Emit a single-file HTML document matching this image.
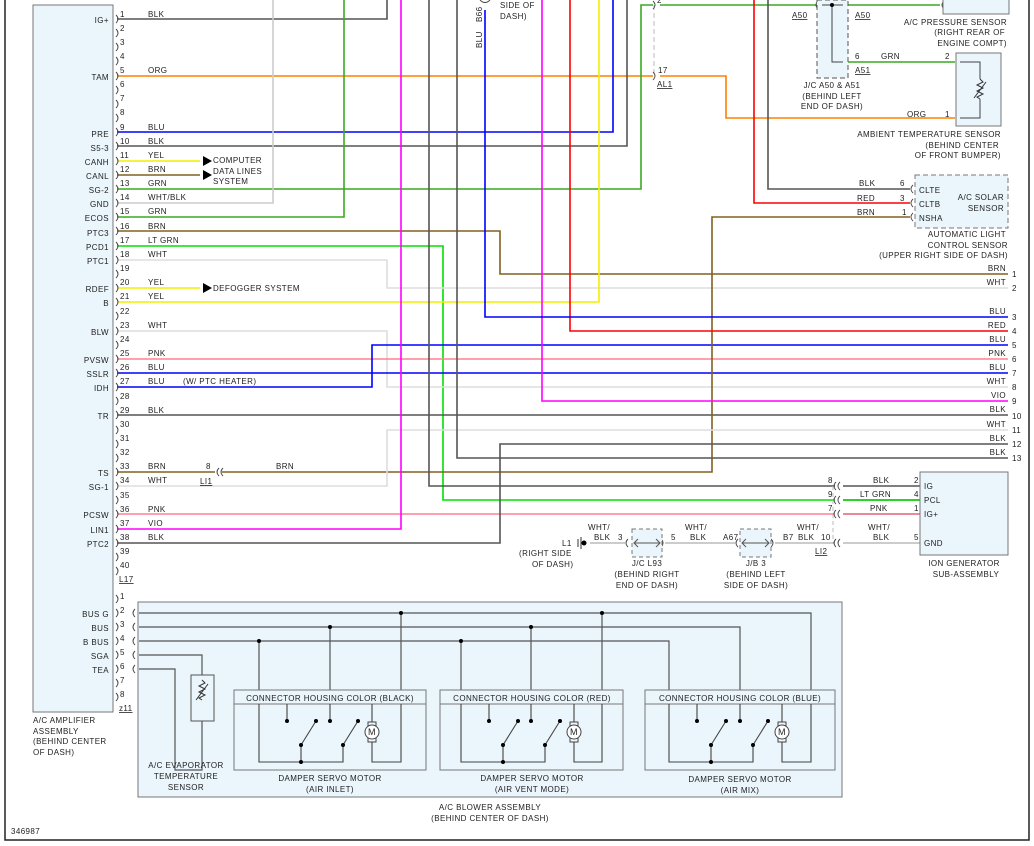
<!DOCTYPE html>
<html><head><meta charset="utf-8"><style>
html,body{margin:0;padding:0;background:#fff}
svg{display:block}
text{font-family:"Liberation Sans",Arial,sans-serif;font-size:8px;fill:#222;letter-spacing:0.4px}
.r{text-anchor:end}.m{text-anchor:middle}
.w{fill:none;stroke-width:1.6}
.g{fill:none;stroke:#666;stroke-width:1.2}
</style></head><body>
<svg width="1034" height="846" viewBox="0 0 1034 846" xmlns="http://www.w3.org/2000/svg">
<rect x="0" y="0" width="1034" height="846" fill="#fff"/>
<!-- border -->
<path d="M5 0V840H1029V0" fill="none" stroke="#222" stroke-width="1.5"/>
<!-- amplifier box -->
<rect x="33" y="5" width="80" height="707" fill="#eaf5fc" stroke="#777" stroke-width="1"/>
<!-- blower box -->
<rect x="138" y="602" width="704" height="195" fill="#eaf5fc" stroke="#777" stroke-width="1"/>

<!-- ===== wires ===== -->
<g class="w">
<path d="M117 19H387V0" stroke="#555"/>
<path d="M117 76H653" stroke="#ff8000"/>
<path d="M660 76H726V118H955" stroke="#ff8000"/>
<path d="M117 132H613V0" stroke="#0000ff"/>
<path d="M117 146H627V0" stroke="#555"/>
<path d="M117 161H200" stroke="#f0f000"/>
<path d="M117 175H200" stroke="#806020"/>
<path d="M117 189H641V5H653" stroke="#3aaa20"/>
<path d="M660 5H820" stroke="#3aaa20"/>
<path d="M117 203H273V0" stroke="#ccc"/>
<path d="M117 217H344V0" stroke="#3aaa20"/>
<path d="M117 231H500V274H1008" stroke="#806020"/>
<path d="M117 246H443V500H835" stroke="#00e000"/>
<path d="M117 260H387V288H1008" stroke="#ddd"/>
<path d="M117 288H200" stroke="#f0f000"/>
<path d="M117 302H599V0" stroke="#f0f000"/>
<path d="M117 331H387V387H1008" stroke="#ddd"/>
<path d="M117 359H1008" stroke="#ff8090"/>
<path d="M117 373H1008" stroke="#0000ff"/>
<path d="M117 387H372V345H1008" stroke="#0000ff"/>
<path d="M117 415H1008" stroke="#555"/>
<path d="M117 472H215" stroke="#806020"/>
<path d="M222 472H712V217H910" stroke="#806020"/>
<path d="M117 486H387V430H1008" stroke="#ddd"/>
<path d="M117 514H835" stroke="#ff8090"/>
<path d="M117 529H401V0" stroke="#ff00ff"/>
<path d="M117 543H500V444H1008" stroke="#555"/>
<path d="M457 0V458H1008" stroke="#555"/>
<path d="M429 0V486H835" stroke="#555"/>
<path d="M542 0V401H1008" stroke="#ff00ff"/>
<path d="M570 0V331H1008" stroke="#ff0000"/>
<path d="M485 10V317H1008" stroke="#0000ff"/>
<path d="M754 0V203H910" stroke="#ff0000"/>
<path d="M768 0V189H910" stroke="#555"/>
<path d="M848 5H940" stroke="#3aaa20"/>
<path d="M848 62H955" stroke="#3aaa20"/>
<path d="M843 486H920M843 500H920M843 514H920" stroke="#555"/>
<path d="M843 500H920" stroke="#00e000"/>
<path d="M843 514H920" stroke="#ff8090"/>
<path d="M590 543H625M665 543H735M775 543H835M843 543H920" stroke="#bbb"/>
</g>
<!-- dashed connector verticals -->
<path d="M654 5V76" stroke="#bbb" stroke-dasharray="5,3" fill="none"/>
<path d="M833 486V543" stroke="#bbb" stroke-dasharray="4,3" fill="none"/>

<!-- arrows -->
<path d="M203 156L212 161L203 166Z M203 170L212 175L203 180Z M203 283L212 288L203 293Z" fill="#000"/>

<!-- connector glyphs amplifier -->
<g fill="none" stroke="#444" stroke-width="0.9">
<path d="M116 15q4 4 0 8M116 29q4 4 0 8M116 43q4 4 0 8M116 57q4 4 0 8M116 72q4 4 0 8M116 86q4 4 0 8M116 100q4 4 0 8M116 114q4 4 0 8M116 128q4 4 0 8M116 142q4 4 0 8M116 157q4 4 0 8M116 171q4 4 0 8M116 185q4 4 0 8M116 199q4 4 0 8M116 213q4 4 0 8M116 227q4 4 0 8M116 242q4 4 0 8M116 256q4 4 0 8M116 270q4 4 0 8M116 284q4 4 0 8M116 298q4 4 0 8M116 312q4 4 0 8M116 327q4 4 0 8M116 341q4 4 0 8M116 355q4 4 0 8M116 369q4 4 0 8M116 383q4 4 0 8M116 397q4 4 0 8M116 411q4 4 0 8M116 426q4 4 0 8M116 440q4 4 0 8M116 454q4 4 0 8M116 468q4 4 0 8M116 482q4 4 0 8M116 496q4 4 0 8M116 510q4 4 0 8M116 525q4 4 0 8M116 539q4 4 0 8M116 553q4 4 0 8M116 567q4 4 0 8"/>
<path d="M116 595q4 4 0 8M116 609q4 4 0 8M116 623q4 4 0 8M116 637q4 4 0 8M116 651q4 4 0 8M116 665q4 4 0 8M116 679q4 4 0 8M116 693q4 4 0 8"/>
<path d="M135 609q-4 4 0 8M135 623q-4 4 0 8M135 637q-4 4 0 8M135 651q-4 4 0 8M135 665q-4 4 0 8"/>
<path d="M219 468q-4 4 0 8M223 468q-4 4 0 8"/>
<path d="M653 1q4 4 0 8M653 72q4 4 0 8"/>
<path d="M843 1q4 4 0 8M843 58q4 4 0 8M818 1q-4 4 0 8M944 1q-4 4 0 8M959 58q-4 4 0 8M959 114q-4 4 0 8"/>
<path d="M913 185q-4 4 0 8M913 199q-4 4 0 8M913 213q-4 4 0 8"/>
<path d="M836 482q-4 4 0 8M840 482q-4 4 0 8M836 496q-4 4 0 8M840 496q-4 4 0 8M836 510q-4 4 0 8M840 510q-4 4 0 8M836 539q-4 4 0 8M840 539q-4 4 0 8"/>
<path d="M923 482q-4 4 0 8M923 496q-4 4 0 8M923 510q-4 4 0 8M923 539q-4 4 0 8"/>
<path d="M628 539q-4 4 0 8M661 539q4 4 0 8M738 539q-4 4 0 8M771 539q4 4 0 8"/>
<path d="M480 0q5 5 10 0"/>
</g>

<!-- amplifier labels -->
<g class="r">
<text x="109" y="23" class="r">IG+</text><text x="109" y="80" class="r">TAM</text><text x="109" y="137" class="r">PRE</text><text x="109" y="151" class="r">S5-3</text><text x="109" y="165" class="r">CANH</text><text x="109" y="179" class="r">CANL</text><text x="109" y="193" class="r">SG-2</text><text x="109" y="207" class="r">GND</text><text x="109" y="221" class="r">ECOS</text><text x="109" y="236" class="r">PTC3</text><text x="109" y="250" class="r">PCD1</text><text x="109" y="264" class="r">PTC1</text><text x="109" y="292" class="r">RDEF</text><text x="109" y="306" class="r">B</text><text x="109" y="335" class="r">BLW</text><text x="109" y="363" class="r">PVSW</text><text x="109" y="377" class="r">SSLR</text><text x="109" y="391" class="r">IDH</text><text x="109" y="419" class="r">TR</text><text x="109" y="476" class="r">TS</text><text x="109" y="490" class="r">SG-1</text><text x="109" y="518" class="r">PCSW</text><text x="109" y="533" class="r">LIN1</text><text x="109" y="547" class="r">PTC2</text>
<text x="109" y="617" class="r">BUS G</text><text x="109" y="631" class="r">BUS</text><text x="109" y="645" class="r">B BUS</text><text x="109" y="659" class="r">SGA</text><text x="109" y="673" class="r">TEA</text>
</g>
<g>
<text x="120" y="17">1</text><text x="120" y="31">2</text><text x="120" y="45">3</text><text x="120" y="59">4</text><text x="120" y="73">5</text><text x="120" y="87">6</text><text x="120" y="101">7</text><text x="120" y="115">8</text><text x="120" y="130">9</text><text x="120" y="144">10</text><text x="120" y="158">11</text><text x="120" y="172">12</text><text x="120" y="186">13</text><text x="120" y="200">14</text><text x="120" y="214">15</text><text x="120" y="229">16</text><text x="120" y="243">17</text><text x="120" y="257">18</text><text x="120" y="271">19</text><text x="120" y="285">20</text><text x="120" y="299">21</text><text x="120" y="314">22</text><text x="120" y="328">23</text><text x="120" y="342">24</text><text x="120" y="356">25</text><text x="120" y="370">26</text><text x="120" y="384">27</text><text x="120" y="399">28</text><text x="120" y="413">29</text><text x="120" y="427">30</text><text x="120" y="441">31</text><text x="120" y="455">32</text><text x="120" y="469">33</text><text x="120" y="483">34</text><text x="120" y="498">35</text><text x="120" y="512">36</text><text x="120" y="526">37</text><text x="120" y="540">38</text><text x="120" y="554">39</text><text x="120" y="568">40</text>
<text x="119" y="582" text-decoration="underline">L17</text>
<text x="120" y="599">1</text><text x="120" y="613">2</text><text x="120" y="627">3</text><text x="120" y="641">4</text><text x="120" y="655">5</text><text x="120" y="669">6</text><text x="120" y="683">7</text><text x="120" y="697">8</text>
<text x="119" y="711" text-decoration="underline">z11</text>
<!-- wire color labels -->
<text x="148" y="17">BLK</text><text x="148" y="73">ORG</text><text x="148" y="130">BLU</text><text x="148" y="144">BLK</text><text x="148" y="158">YEL</text><text x="148" y="172">BRN</text><text x="148" y="186">GRN</text><text x="148" y="200">WHT/BLK</text><text x="148" y="214">GRN</text><text x="148" y="229">BRN</text><text x="148" y="243">LT GRN</text><text x="148" y="257">WHT</text><text x="148" y="285">YEL</text><text x="148" y="299">YEL</text><text x="148" y="328">WHT</text><text x="148" y="356">PNK</text><text x="148" y="370">BLU</text><text x="148" y="384">BLU</text><text x="183" y="384">(W/ PTC HEATER)</text><text x="148" y="413">BLK</text><text x="148" y="469">BRN</text><text x="148" y="483">WHT</text><text x="148" y="512">PNK</text><text x="148" y="526">VIO</text><text x="148" y="540">BLK</text>
<text x="213" y="163">COMPUTER</text><text x="213" y="174">DATA LINES</text><text x="213" y="184">SYSTEM</text>
<text x="213" y="291">DEFOGGER SYSTEM</text>
<text x="206" y="469">8</text><text x="200" y="484" text-decoration="underline">LI1</text><text x="276" y="469">BRN</text>
<text x="33" y="723">A/C AMPLIFIER</text><text x="33" y="734">ASSEMBLY</text><text x="33" y="744">(BEHIND CENTER</text><text x="33" y="755">OF DASH)</text>
<text x="11" y="834">346987</text>
</g>

<!-- top middle labels -->
<text x="500" y="8">SIDE OF</text><text x="500" y="19">DASH)</text>
<text transform="translate(482,48) rotate(-90)">BLU</text><text transform="translate(482,22) rotate(-90)">B66</text>
<text x="657" y="3">2</text><text x="658" y="73">17</text><text x="657" y="87" text-decoration="underline">AL1</text>

<!-- J/C A50 & A51 -->
<rect x="817" y="0" width="31" height="78" fill="#eaf5fc" stroke="#555" stroke-dasharray="5,3"/>
<path d="M822 5H843M832 5V62H843" stroke="#444" fill="none"/>
<circle cx="832" cy="5" r="2" fill="#000"/>
<text x="792" y="18" text-decoration="underline">A50</text><text x="855" y="18" text-decoration="underline">A50</text>
<text x="855" y="59">6</text><text x="855" y="73" text-decoration="underline">A51</text>
<text x="881" y="59">GRN</text><text x="945" y="59">2</text>
<text x="832" y="88" class="m">J/C A50 &amp; A51</text><text x="832" y="99" class="m">(BEHIND LEFT</text><text x="832" y="109" class="m">END OF DASH)</text>
<!-- pressure sensor -->
<rect x="943" y="-2" width="66" height="16" fill="#eaf5fc" stroke="#777"/>
<text x="1007" y="25" class="r">A/C PRESSURE SENSOR</text><text x="1005" y="35" class="r">(RIGHT REAR OF</text><text x="1007" y="46" class="r">ENGINE COMPT)</text>
<!-- ambient sensor -->
<rect x="956" y="53" width="45" height="73" fill="#eaf5fc" stroke="#777"/>
<path d="M960 62H980V79M980 99V118H960" fill="none" stroke="#444"/>
<path d="M980 79l3 3l-6 3l6 3l-6 3l6 3l-6 3l3 2M974 98l12-16" fill="none" stroke="#333"/>
<text x="907" y="117">ORG</text><text x="945" y="117">1</text>
<text x="1001" y="137" class="r">AMBIENT TEMPERATURE SENSOR</text><text x="999" y="148" class="r">(BEHIND CENTER</text><text x="1001" y="158" class="r">OF FRONT BUMPER)</text>
<!-- ALS -->
<rect x="915" y="175" width="93" height="53" fill="#eaf5fc" stroke="#777" stroke-dasharray="5,3"/>
<text x="919" y="193">CLTE</text><text x="919" y="207">CLTB</text><text x="919" y="221">NSHA</text>
<text x="1004" y="200" class="r">A/C SOLAR</text><text x="1004" y="211" class="r">SENSOR</text>
<text x="859" y="186">BLK</text><text x="857" y="201">RED</text><text x="857" y="215">BRN</text>
<text x="900" y="186">6</text><text x="900" y="201">3</text><text x="902" y="215">1</text>
<text x="1006" y="237" class="r">AUTOMATIC LIGHT</text><text x="1008" y="248" class="r">CONTROL SENSOR</text><text x="1008" y="258" class="r">(UPPER RIGHT SIDE OF DASH)</text>
<!-- right end labels -->
<g>
<text x="1006" y="271" class="r">BRN</text><text x="1006" y="285" class="r">WHT</text><text x="1006" y="314" class="r">BLU</text><text x="1006" y="328" class="r">RED</text><text x="1006" y="342" class="r">BLU</text><text x="1006" y="356" class="r">PNK</text><text x="1006" y="370" class="r">BLU</text><text x="1006" y="384" class="r">WHT</text><text x="1006" y="398" class="r">VIO</text><text x="1006" y="412" class="r">BLK</text><text x="1006" y="427" class="r">WHT</text><text x="1006" y="441" class="r">BLK</text><text x="1006" y="455" class="r">BLK</text>
<text x="1012" y="277">1</text><text x="1012" y="291">2</text><text x="1012" y="320">3</text><text x="1012" y="334">4</text><text x="1012" y="348">5</text><text x="1012" y="362">6</text><text x="1012" y="376">7</text><text x="1012" y="390">8</text><text x="1012" y="404">9</text><text x="1012" y="419">10</text><text x="1012" y="433">11</text><text x="1012" y="447">12</text><text x="1012" y="461">13</text>
</g>
<!-- ion generator -->
<rect x="920" y="472" width="88" height="83" fill="#eaf5fc" stroke="#777"/>
<text x="924" y="489">IG</text><text x="924" y="503">PCL</text><text x="924" y="517">IG+</text><text x="924" y="546">GND</text>
<text x="964" y="566" class="m">ION GENERATOR</text><text x="966" y="577" class="m">SUB-ASSEMBLY</text>
<text x="828" y="483">8</text><text x="828" y="497">9</text><text x="828" y="511">7</text>
<text x="873" y="483">BLK</text><text x="860" y="497">LT GRN</text><text x="870" y="511">PNK</text>
<text x="914" y="483">2</text><text x="914" y="497">4</text><text x="914" y="511">1</text><text x="914" y="540">5</text>
<text x="868" y="530">WHT/</text><text x="873" y="540">BLK</text>
<text x="797" y="530">WHT/</text><text x="798" y="540">BLK</text><text x="821" y="540">10</text><text x="815" y="554" text-decoration="underline">LI2</text>
<!-- ground & junctions -->
<path d="M578 539V547M581 537V549" stroke="#333" fill="none"/><circle cx="584" cy="543" r="2.5" fill="#000"/>
<text x="562" y="546">L1</text><text x="519" y="556">(RIGHT SIDE</text><text x="532" y="567">OF DASH)</text>
<text x="588" y="530">WHT/</text><text x="594" y="540">BLK</text><text x="618" y="540">3</text>
<rect x="632" y="529" width="30" height="28" fill="#eaf5fc" stroke="#777" stroke-dasharray="4,3"/>
<path d="M634 543H660M638 539l-4 4l4 4M656 539l4 4l-4 4" fill="none" stroke="#555"/>
<text x="671" y="540">5</text><text x="685" y="530">WHT/</text><text x="690" y="540">BLK</text><text x="723" y="540">A67</text>
<rect x="740" y="529" width="31" height="28" fill="#eaf5fc" stroke="#777" stroke-dasharray="4,3"/>
<path d="M742 543H769M746 539l-4 4l4 4M765 539l4 4l-4 4" fill="none" stroke="#555"/>
<text x="783" y="540">B7</text>
<text x="647" y="566" class="m">J/C L93</text><text x="647" y="577" class="m">(BEHIND RIGHT</text><text x="647" y="588" class="m">END OF DASH)</text>
<text x="756" y="566" class="m">J/B 3</text><text x="756" y="577" class="m">(BEHIND LEFT</text><text x="756" y="588" class="m">SIDE OF DASH)</text>

<!-- blower internals -->
<g fill="none" stroke="#555" stroke-width="1.2">
<path d="M139 613H811V690M139 627H740V690M139 641H669V690"/>
<path d="M401 613V690M330 627V690M259 641V690M602 613V690M531 627V690M461 641V690"/>
<path d="M139 655H202V770H175V669H139"/>
</g>
<rect x="191" y="675" width="23" height="46" fill="#eaf5fc" stroke="#555"/>
<path d="M202 680l3 3l-6 3l6 3l-6 3l6 3l-6 3l3 2M196 700l12-16" fill="none" stroke="#333"/>
<g fill="#000"><circle cx="401" cy="613" r="2"/><circle cx="330" cy="627" r="2"/><circle cx="259" cy="641" r="2"/><circle cx="602" cy="613" r="2"/><circle cx="531" cy="627" r="2"/><circle cx="461" cy="641" r="2"/></g>
<text x="186" y="768" class="m">A/C EVAPORATOR</text><text x="186" y="779" class="m">TEMPERATURE</text><text x="186" y="790" class="m">SENSOR</text>

<g transform="translate(234,0)">
<rect x="0" y="690" width="192" height="80" fill="#eaf5fc" stroke="#777"/><path d="M0 704H192" stroke="#777"/>
<g fill="none" stroke="#444" stroke-width="1.1"><path d="M25 704V762H109V745M67 745V762M53 704V721M96 704V721M67 745L82 721M109 745L124 721M138 704V724M138 740V762H167V704"/></g>
<g fill="#000"><circle cx="53" cy="721" r="2"/><circle cx="96" cy="721" r="2"/><circle cx="82" cy="721" r="2"/><circle cx="124" cy="721" r="2"/><circle cx="67" cy="745" r="2"/><circle cx="109" cy="745" r="2"/><circle cx="67" cy="762" r="2"/></g>
<rect x="134" y="722" width="8" height="20" fill="#eaf5fc" stroke="#444"/><circle cx="138" cy="732" r="7" fill="#fff" stroke="#444"/>
<text x="138" y="735" class="m" style="font-size:9px">M</text>
<text x="96" y="701" class="m">CONNECTOR HOUSING COLOR (BLACK)</text>
<text x="96" y="781" class="m">DAMPER SERVO MOTOR</text><text x="96" y="792" class="m">(AIR INLET)</text>
</g>
<g transform="translate(440,0)">
<rect x="0" y="690" width="183" height="80" fill="#eaf5fc" stroke="#777"/><path d="M0 704H183" stroke="#777"/>
<g fill="none" stroke="#444" stroke-width="1.1"><path d="M21 704V762H105V745M63 745V762M49 704V721M91 704V721M63 745L78 721M105 745L120 721M134 704V724M134 740V762H162V704"/></g>
<g fill="#000"><circle cx="49" cy="721" r="2"/><circle cx="91" cy="721" r="2"/><circle cx="78" cy="721" r="2"/><circle cx="120" cy="721" r="2"/><circle cx="63" cy="745" r="2"/><circle cx="105" cy="745" r="2"/><circle cx="63" cy="762" r="2"/></g>
<rect x="130" y="722" width="8" height="20" fill="#eaf5fc" stroke="#444"/><circle cx="134" cy="732" r="7" fill="#fff" stroke="#444"/>
<text x="134" y="735" class="m" style="font-size:9px">M</text>
<text x="92" y="701" class="m">CONNECTOR HOUSING COLOR (RED)</text>
<text x="92" y="781" class="m">DAMPER SERVO MOTOR</text><text x="92" y="792" class="m">(AIR VENT MODE)</text>
</g>
<g transform="translate(645,0)">
<rect x="0" y="690" width="190" height="80" fill="#eaf5fc" stroke="#777"/><path d="M0 704H190" stroke="#777"/>
<g fill="none" stroke="#444" stroke-width="1.1"><path d="M24 704V762H108V745M66 745V762M52 704V721M95 704V721M66 745L81 721M108 745L123 721M137 704V724M137 740V762H166V704"/></g>
<g fill="#000"><circle cx="52" cy="721" r="2"/><circle cx="95" cy="721" r="2"/><circle cx="81" cy="721" r="2"/><circle cx="123" cy="721" r="2"/><circle cx="66" cy="745" r="2"/><circle cx="108" cy="745" r="2"/><circle cx="66" cy="762" r="2"/></g>
<rect x="133" y="722" width="8" height="20" fill="#eaf5fc" stroke="#444"/><circle cx="137" cy="732" r="7" fill="#fff" stroke="#444"/>
<text x="137" y="735" class="m" style="font-size:9px">M</text>
<text x="95" y="701" class="m">CONNECTOR HOUSING COLOR (BLUE)</text>
<text x="95" y="782" class="m">DAMPER SERVO MOTOR</text><text x="95" y="793" class="m">(AIR MIX)</text>
</g>
<text x="490" y="810" class="m">A/C BLOWER ASSEMBLY</text><text x="490" y="821" class="m">(BEHIND CENTER OF DASH)</text>
</svg>
</body></html>
